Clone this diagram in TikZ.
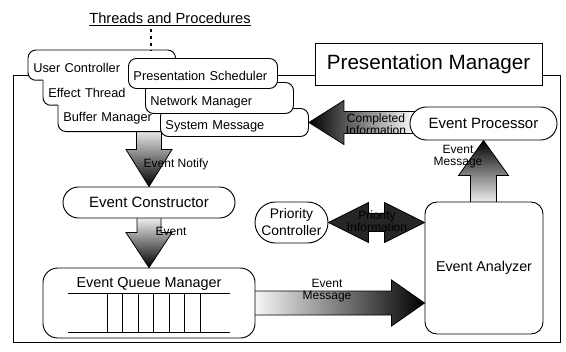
\documentclass[tikz,border=0pt]{standalone}
\usepackage{fontspec}
\setmainfont{Liberation Sans}
\usepackage{tikz}
\usetikzlibrary{calc}
\pgfdeclarelayer{background}
\pgfdeclarelayer{cards}
\pgfsetlayers{background,cards,main}

\begin{document}
\begin{tikzpicture}[x=0.75pt,y=0.75pt,yscale=-1,xscale=1,
    boxline/.style={draw=black, line width=0.7pt},
    procbox/.style={boxline, fill=white, inner sep=0pt, font=\fontsize{11.2}{13}\selectfont},
    cardbox/.style={boxline, fill=white, rounded corners=6pt, anchor=north west, align=left, inner xsep=3.75pt, inner ysep=0pt, text height=1.1em, text depth=0pt, font=\fontsize{9.6}{11}\selectfont},
    cardtext/.style={anchor=north west, align=left, inner xsep=3.75pt, inner ysep=0pt, font=\fontsize{9.6}{11}\selectfont},
    fatarrow/.style={draw=black, line width=0.6pt},
    arrowlabel/.style={align=center, inner sep=0pt, font=\fontsize{9}{9}\selectfont},
    dotline/.style={line width=2pt, dash pattern=on 2.2pt off 3pt},
    queueline/.style={line width=0.5pt}]
        \useasboundingbox (0,0) rectangle (566,351);

        % threads and procedures
        \node[font=\fontsize{11}{13}\selectfont, anchor=base] (title) at (170,23) {\underline{Threads and Procedures}};
        \node[cardtext, text width=102.75pt, minimum height=22.5pt, text height=1.1em, text depth=0pt] (uc) at (28,50) {User Controller};
        \node[cardtext, text width=72.75pt, minimum height=18.75pt] (et) at (43,80) {Effect Thread};
        \node[cardtext, text width=76.5pt, minimum height=19.5pt] (bm) at (58,105) {Buffer Manager};
        \node[cardbox, text width=103.5pt, minimum height=21pt] (sm) at (160,108) {System Message};
        \node[cardbox, text width=103.5pt, minimum height=23.25pt] (nm) at (145,82) {Network Manager};
        \node[cardbox, text width=104.25pt, minimum height=22.5pt] (ps) at (128,58) {Presentation Scheduler};
        \coordinate (dottop) at (151,29);
        \draw[dotline] (dottop) -- (dottop |- uc.north);

        % presentation manager
        \node[boxline, fill=white, minimum width=170.25pt, minimum height=31.5pt, font=\fontsize{15.5}{18}\selectfont] (pm) at (428.5,64) {Presentation Manager};
        \node[procbox, rounded corners=12.3pt, minimum width=110.25pt, minimum height=24.75pt] (ep) at (483.5,123.5) {Event Processor};
        \node[procbox, rounded corners=11.6pt, minimum width=129pt, minimum height=23.25pt] (ec) at (149,202.5) {Event Constructor};
        \node[procbox, rounded corners=15.3pt, minimum width=54.75pt, minimum height=30.75pt, align=center, font=\fontsize{10.4}{12.75}\selectfont] (pc) at (291.5,222.5) {Priority\\Controller};
        \node[boxline, fill=white, rounded corners=9pt, minimum width=88.5pt, minimum height=99pt, font=\fontsize{10.7}{13}\selectfont] (ea) at (484,268) {Event Analyzer};
        \node[boxline, fill=white, rounded corners=11pt, minimum width=159pt, inner ysep=0pt, text height=14.6pt, text depth=37.9pt, font=\fontsize{10.8}{13}\selectfont] (eqm) at (149,303) {Event Queue Manager};
        \draw[queueline] (68,293) -- (230,293) (68,332) -- (230,332);
        \foreach \qx in {107,122.5,138,153.5,169,184.5,200}
            \draw[queueline] (\qx,293) -- (\qx,332);

        % stacked thread cards
        \begin{pgfonlayer}{cards}
        \fill[white, rounded corners=6pt] ($(uc.north east)+(0,20)$) -- (uc.north east) -- (uc.north west) -- (uc.south west) -- (et.north west) -- (et.south west) -- (bm.north west) -- (bm.south west) -- (bm.south east) -- ($(bm.south east)+(0,-60)$) -- cycle;
        \draw[boxline, rounded corners=6pt] ($(uc.north east)+(0,20)$) -- (uc.north east) -- (uc.north west) -- (uc.south west) -- (et.north west);
        \draw[boxline, rounded corners=6pt] (et.north west) -- (et.south west) -- (bm.north west);
        \draw[boxline, rounded corners=6pt] (bm.north west) -- (bm.south west) -- (bm.south east);
        \end{pgfonlayer}

        % frame and fat arrows
        \begin{pgfonlayer}{background}
        \draw[line width=0.5pt] (13,75) rectangle (560,342);
        \shade[fatarrow, top color=white, bottom color=black] (ec.north) -- ++(-23,-37) -- ++(10.5,0) -- ($(ec.north |- bm.south)+(-12.5,-6)$) -- ++(25,0) -- ($(ec.north)+(12.5,-37)$) -- ++(10.5,0) -- cycle;
        \shade[fatarrow, top color=white, bottom color=black] (eqm.north) -- ++(-23,-35) -- ++(11,0) -- ($(ec.south -| eqm.north)+(-12,-4)$) -- ++(24,0) -- ($(eqm.north)+(12,-35)$) -- ++(11,0) -- cycle;
        \shade[fatarrow, left color=black, right color=white] (sm.east) -- ++(35,-22) -- ++(0,11) -- ($(ep.west |- sm.east)+(6,-11)$) -- ++(0,22) -- ($(sm.east)+(35,11)$) -- ++(0,11) -- cycle;
        \shade[fatarrow, top color=black, bottom color=white] (ep.south) -- ++(25,35) -- ++(-12,0) -- ($(ea.north -| ep.south)+(13,5)$) -- ++(-26,0) -- ($(ep.south)+(-13,35)$) -- ++(-12,0) -- cycle;
        \shade[fatarrow, left color=black!85, middle color=gray!20, right color=black!85] (pc.east) -- ++(40,-20) -- ++(0,11) -- ($(ea.west |- pc.east)+(-40,-9)$) -- ++(0,-11) -- (ea.west |- pc.east) -- ++(-40,20) -- ++(0,-11) -- ($(pc.east)+(40,9)$) -- ++(0,11) -- cycle;
        \shade[fatarrow, left color=white, right color=black] (ea.west |- eqm.east) -- ++(-33,-23) -- ++(0,11) -- ($(eqm.east)+(-6,-12)$) -- ++(0,24) -- ($(ea.west |- eqm.east)+(-33,12)$) -- ++(0,11) -- cycle;
        \end{pgfonlayer}

        % arrow labels
        \node[arrowlabel] (lblnotify) at (176,164) {Event Notify};
        \node[arrowlabel] (lblevent) at (171,231) {Event};
        \node[arrowlabel] (lblcompleted) at (376,124) {Completed\\Information};
        \node[arrowlabel] (lblmsgup) at (458,157) {Event\\Message};
        \node[arrowlabel] (lblprio) at (377,221) {Priority\\Information};
        \node[arrowlabel] (lblmsg) at (327,291) {Event\\Message};
\end{tikzpicture}
\end{document}
